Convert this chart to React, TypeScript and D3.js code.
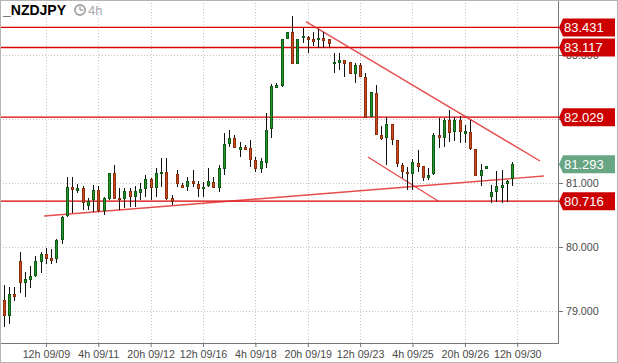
import React, { useRef, useEffect } from "react";
import * as d3 from "d3";

const symbol = "_NZDJPY";
const timeframe = "4h";

// 4h candles, oldest first
const opens = [
  79.172, 78.938, 79.266, 79.781, 79.453, 79.5, 79.563, 79.781, 79.891, 79.828,
  79.828, 80.125, 80.5, 80.938, 80.891, 80.922, 80.656, 80.75, 80.891, 80.578,
  80.766, 81.156, 80.766, 80.766, 80.875, 80.797, 80.859, 80.922, 81.063, 80.938,
  81.156, 81.172, 80.766, 81.141, 80.969, 80.953, 81.031, 80.984, 80.922, 80.969,
  81.016, 80.938, 81.234, 81.625, 81.703, 81.531, 81.563, 81.547, 81.359, 81.234,
  81.328, 81.859, 82.5, 82.531, 83.266, 83.359, 82.875, 83.281, 83.281, 83.25,
  83.25, 83.266, 83.25, 82.875, 82.891, 82.922, 82.891, 82.719, 82.844, 82.656,
  82.047, 82.406, 81.75, 81.719, 81.922, 81.672, 81.281, 81.172, 81.156, 81.313,
  81.266, 81.094, 81.156, 81.75, 81.719, 81.984, 81.813, 81.984, 81.781, 81.797,
  81.531, 81.125, 81.234, 80.797, 80.875, 80.938, 81.0, 81.078,
];
const highs = [
  79.406, 79.375, 79.375, 79.922, 79.609, 79.703, 79.859, 79.922, 79.984, 79.969,
  80.125, 80.484, 81.094, 81.094, 80.984, 80.953, 80.766, 80.969, 80.953, 80.781,
  81.156, 81.281, 80.922, 80.922, 80.922, 80.953, 81.0, 81.125, 81.078, 81.234,
  81.391, 81.391, 80.813, 81.203, 81.0, 81.094, 81.203, 81.031, 81.016, 81.234,
  81.094, 81.281, 81.781, 81.828, 81.75, 81.641, 81.594, 81.672, 81.406, 81.391,
  82.094, 82.547, 82.563, 83.25, 83.359, 83.609, 83.25, 83.422, 83.297, 83.359,
  83.406, 83.359, 83.25, 83.031, 83.031, 82.922, 82.891, 82.875, 82.875, 82.719,
  82.422, 82.531, 81.891, 82.031, 81.922, 81.672, 81.313, 81.25, 81.375, 81.516,
  81.266, 81.234, 81.781, 82.016, 82.016, 82.141, 82.031, 82.047, 81.906, 81.984,
  81.531, 81.297, 81.266, 80.969, 81.188, 81.203, 81.047, 81.328,
];
const lows = [
  78.75, 78.797, 79.156, 79.281, 79.219, 79.359, 79.531, 79.594, 79.734, 79.734,
  79.75, 80.047, 80.469, 80.531, 80.844, 80.578, 80.578, 80.547, 80.547, 80.5,
  80.734, 80.766, 80.578, 80.609, 80.625, 80.625, 80.734, 80.781, 80.734, 80.781,
  80.938, 80.734, 80.656, 80.938, 80.922, 80.875, 80.938, 80.781, 80.781, 80.938,
  80.922, 80.859, 81.125, 81.563, 81.547, 81.406, 81.516, 81.25, 81.172, 81.156,
  81.234, 81.703, 82.484, 82.5, 83.25, 82.875, 82.859, 83.188, 83.031, 83.141,
  83.109, 83.109, 83.125, 82.719, 82.766, 82.656, 82.719, 82.563, 82.656, 82.031,
  82.031, 81.766, 81.672, 81.281, 81.594, 81.25, 81.078, 80.891, 80.891, 81.172,
  81.031, 81.047, 81.125, 81.547, 81.563, 81.641, 81.656, 81.625, 81.625, 81.516,
  81.125, 80.953, 81.219, 80.688, 80.703, 80.688, 80.703, 80.953,
];
const closes = [
  78.938, 79.266, 79.234, 79.453, 79.5, 79.547, 79.781, 79.891, 79.828, 79.797,
  80.109, 80.469, 80.938, 80.906, 80.922, 80.703, 80.719, 80.891, 80.578, 80.766,
  81.156, 80.766, 80.75, 80.875, 80.797, 80.875, 80.906, 81.063, 80.938, 81.156,
  81.172, 80.766, 80.719, 81.0, 80.938, 81.031, 81.0, 80.922, 80.938, 81.031,
  80.938, 81.234, 81.609, 81.703, 81.563, 81.563, 81.531, 81.375, 81.234, 81.344,
  81.828, 82.516, 82.531, 83.25, 83.359, 82.875, 83.25, 83.297, 83.25, 83.219,
  83.266, 83.234, 83.188, 82.891, 82.922, 82.875, 82.719, 82.844, 82.672, 82.031,
  82.422, 81.766, 81.703, 81.922, 81.688, 81.313, 81.188, 81.156, 81.328, 81.266,
  81.094, 81.125, 81.75, 81.719, 81.984, 81.797, 81.984, 81.813, 81.813, 81.547,
  81.125, 81.203, 81.266, 80.859, 80.953, 80.969, 81.031, 81.293,
];

const tickIndex = [8, 18, 28, 38, 48, 58, 68, 78, 88, 98];
const tickLabels = [
  "12h 09/09", "4h 09/11", "20h 09/12", "12h 09/16", "4h 09/18",
  "20h 09/19", "12h 09/23", "4h 09/25", "20h 09/26", "12h 09/30",
];
const priceTicks = [79, 80, 81, 82, 83];
// 82.000 sits fully under the 82.029 tag in the original
const hiddenPriceLabels = [82];

const levels = [83.431, 83.117, 82.029, 80.716];
const lastPrice = 81.293;

// trend lines as [candle index, price]
const supportLine = [[7.64, 80.484], [103.1, 81.109]];
const resistanceLine = [[57.67, 83.52], [102.35, 81.344]];
const channelLine = [[69.5, 81.406], [82.87, 80.719]];

const W = 618;
const H = 363;
const plotRight = 558;
const plotBottom = 343;
const font = "'Liberation Sans', Arial, sans-serif";

const App = () => {
  const svgRef = useRef<SVGSVGElement>(null);

  useEffect(() => {
    const svg = d3.select(svgRef.current);
    svg.selectAll("*").remove();

    const x = d3.scaleLinear().domain([0, 97]).range([4, 512]);
    const y = d3.scaleLinear().domain([79, 83]).range([311, 55]);
    const px = (v: number) => Math.round(v) + 0.5;

    svg.append("rect").attr("width", W).attr("height", H).attr("fill", "#fff");

    // dotted grid
    const grid = svg.append("g").attr("stroke", "#c4c4c4").attr("stroke-dasharray", "1 2");
    priceTicks.forEach((v) => {
      grid.append("line").attr("x1", 0).attr("x2", plotRight).attr("y1", px(y(v))).attr("y2", px(y(v)));
    });
    tickIndex.forEach((i) => {
      grid.append("line").attr("x1", px(x(i))).attr("x2", px(x(i))).attr("y1", 0).attr("y2", plotBottom);
    });

    // right axis
    const yAxis = svg
      .append("g")
      .attr("transform", `translate(${plotRight},0)`)
      .call(
        d3
          .axisRight(y)
          .tickValues(priceTicks)
          .tickFormat((d) => (hiddenPriceLabels.includes(+d) ? "" : d3.format(".3f")(+d)))
          .tickSize(5)
          .tickPadding(3)
      );
    yAxis.select(".domain").remove();
    yAxis.selectAll("line").attr("stroke", "#777");
    yAxis.selectAll("text").attr("fill", "#4a4a4a").style("font-family", font).style("font-size", "10.7px");

    // bottom axis
    const xAxis = svg
      .append("g")
      .attr("transform", `translate(0,${plotBottom})`)
      .call(
        d3
          .axisBottom(x)
          .tickValues(tickIndex)
          .tickFormat((d, i) => tickLabels[i])
          .tickSize(4)
          .tickPadding(3)
      );
    xAxis.select(".domain").remove();
    xAxis.selectAll("line").attr("stroke", "#777");
    xAxis.selectAll("text").attr("fill", "#4a4a4a").style("font-family", font).style("font-size", "10.7px");

    // axis frame
    svg
      .append("path")
      .attr("d", `M${plotRight + 0.5},0V${plotBottom + 0.5}H0`)
      .attr("fill", "none")
      .attr("stroke", "#777");

    // horizontal levels
    levels.forEach((v) => {
      svg
        .append("line")
        .attr("x1", 0)
        .attr("x2", plotRight + 1)
        .attr("y1", y(v))
        .attr("y2", y(v))
        .attr("stroke", "#d80000")
        .attr("stroke-width", 1.3);
    });

    // trend lines
    const line = d3
      .line<number[]>()
      .x((d) => x(d[0]))
      .y((d) => y(d[1]));
    [supportLine, resistanceLine, channelLine].forEach((pts) => {
      svg
        .append("path")
        .attr("d", line(pts))
        .attr("fill", "none")
        .attr("stroke", "#e02020")
        .attr("stroke-opacity", 0.8)
        .attr("stroke-width", 1.4);
    });

    // candles
    const candles = svg.append("g");
    opens.forEach((o, i) => {
      const c = closes[i];
      const up = c >= o;
      const cx = Math.round(x(i));
      candles
        .append("line")
        .attr("x1", cx + 0.5)
        .attr("x2", cx + 0.5)
        .attr("y1", y(highs[i]))
        .attr("y2", y(lows[i]))
        .attr("stroke", "#111");
      const top = Math.round(y(Math.max(o, c)));
      const bot = Math.round(y(Math.min(o, c)));
      candles
        .append("rect")
        .attr("x", cx - 0.5)
        .attr("y", top + 0.5)
        .attr("width", 2)
        .attr("height", Math.max(1, bot - top))
        .attr("fill", up ? "#22962a" : "#cc4b1c")
        .attr("stroke", up ? "#0f5a14" : "#8a2e0e");
    });

    // price tags on the right
    const tag = (v: number, color: string) => {
      const cy = y(v);
      const h = 9;
      svg
        .append("path")
        .attr("d", `M${plotRight + 1},${cy}L${plotRight + 5},${cy - h}H615V${cy + h}H${plotRight + 5}Z`)
        .attr("fill", color);
      svg
        .append("text")
        .attr("x", plotRight + 6)
        .attr("y", cy)
        .attr("dy", "0.36em")
        .attr("fill", "#fff")
        .style("font-family", font)
        .style("font-size", "13px")
        .text(d3.format(".3f")(v));
    };
    levels.forEach((v) => tag(v, "#cc0000"));
    tag(lastPrice, "#68a583");

    // title
    svg
      .append("text")
      .attr("x", 3)
      .attr("y", 15)
      .style("font-family", font)
      .style("font-size", "14px")
      .style("font-weight", "bold")
      .attr("fill", "#000")
      .text(symbol);
    svg
      .append("circle")
      .attr("cx", 80)
      .attr("cy", 10)
      .attr("r", 5)
      .attr("fill", "none")
      .attr("stroke", "#a8a8a8")
      .attr("stroke-width", 2);
    svg
      .append("path")
      .attr("d", "M80,10V6.5M80,10H83")
      .attr("stroke", "#a8a8a8")
      .attr("stroke-width", 1.5);
    svg
      .append("text")
      .attr("x", 88)
      .attr("y", 15)
      .style("font-family", font)
      .style("font-size", "13px")
      .attr("fill", "#a8a8a8")
      .text(timeframe);

    // outer border
    svg
      .append("rect")
      .attr("x", 0.5)
      .attr("y", 0.5)
      .attr("width", W - 1)
      .attr("height", H - 1)
      .attr("fill", "none")
      .attr("stroke", "#b4b4b4");
  }, []);

  return (
    <svg
      ref={svgRef}
      width={W}
      height={H}
      style={{ position: "absolute", left: 0, top: 0, display: "block" }}
    ></svg>
  );
};

export default App;
